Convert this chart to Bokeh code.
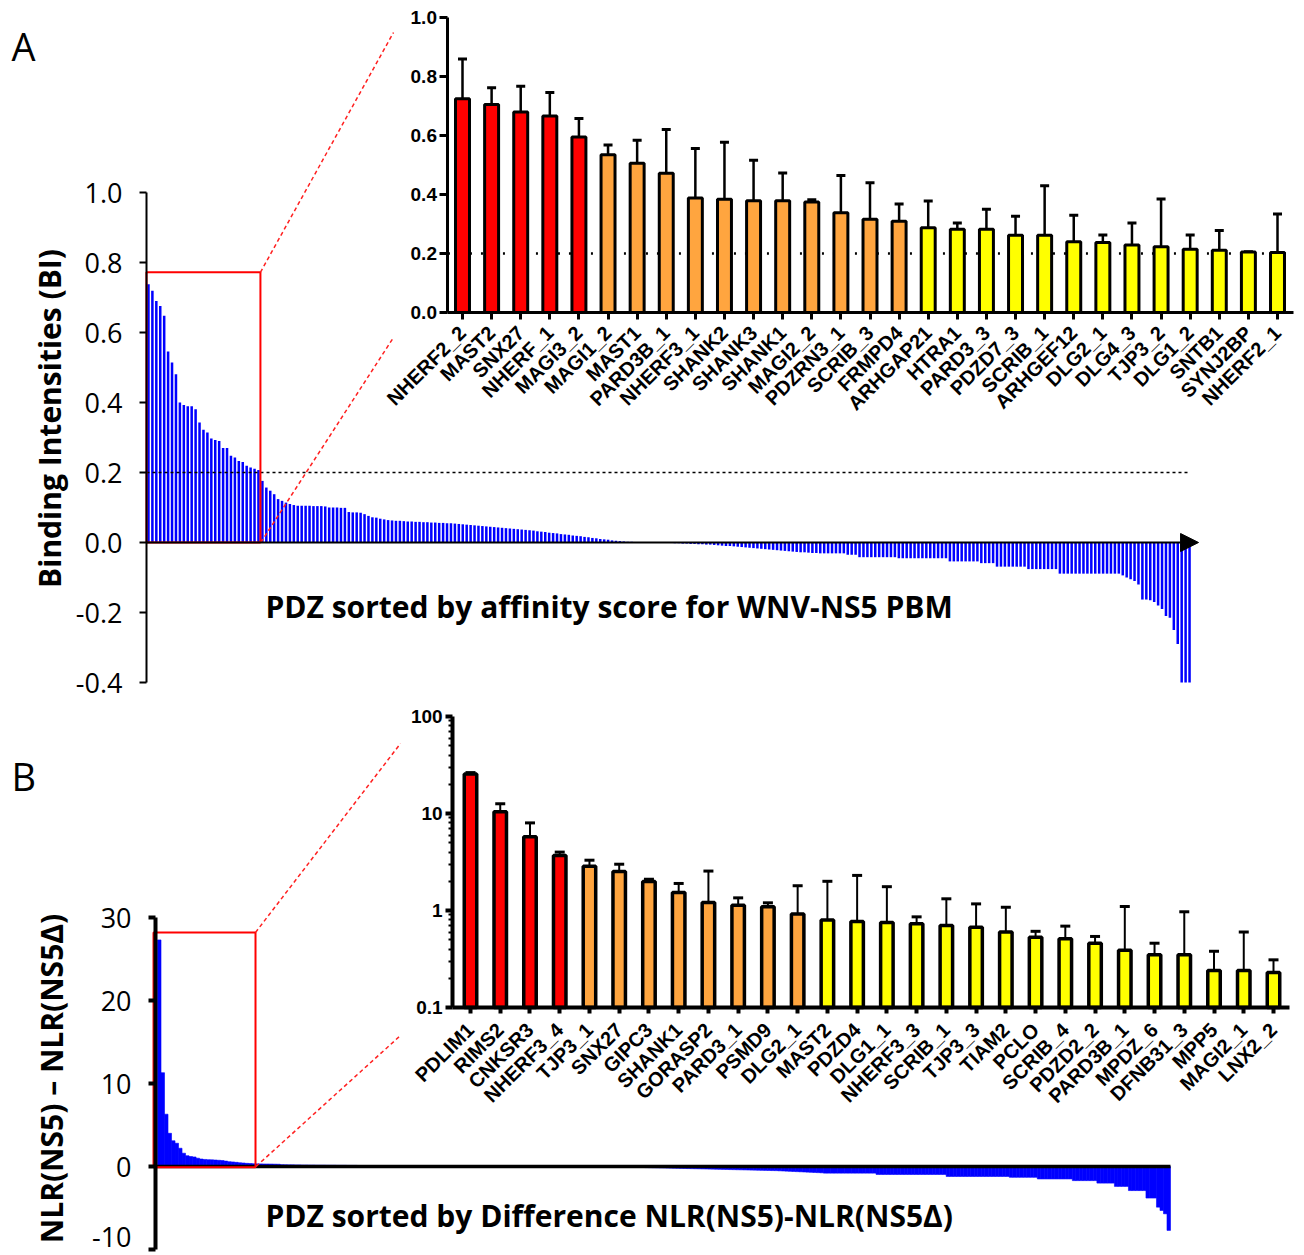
import math
from bokeh.plotting import figure
from bokeh.models import (Range1d, LinearAxis, LogAxis, LogScale, FixedTicker,
                          PrintfTickFormatter, ColumnDataSource, Whisker, TeeHead,
                          Arrow, NormalHead, Label)
from bokeh.embed import file_html
from bokeh.resources import INLINE

# ---------------------------------------------------------------- data
# Panel A, inset: top binders (mean BI and upper error)
A_labels = ["NHERF2_2", "MAST2", "SNX27", "NHERF_1", "MAGI3_2", "MAGI1_2", "MAST1",
            "PARD3B_1", "NHERF3_1", "SHANK2", "SHANK3", "SHANK1", "MAGI2_2", "PDZRN3_1",
            "SCRIB_3", "FRMPD4", "ARHGAP21", "HTRA1", "PARD3_3", "PDZD7_3", "SCRIB_1",
            "ARHGEF12", "DLG2_1", "DLG4_3", "TJP3_2", "DLG1_2", "SNTB1", "SYNJ2BP", "NHERF2_1"]
A_mean = [0.725, 0.705, 0.680, 0.666, 0.595, 0.535, 0.506, 0.472, 0.388, 0.384, 0.379, 0.379,
          0.375, 0.338, 0.316, 0.309, 0.287, 0.282, 0.282, 0.262, 0.262, 0.240, 0.237, 0.229,
          0.223, 0.214, 0.211, 0.205, 0.203]
A_err = [0.859, 0.762, 0.767, 0.746, 0.658, 0.568, 0.584, 0.620, 0.556, 0.577, 0.516, 0.473,
         0.382, 0.464, 0.440, 0.368, 0.378, 0.303, 0.350, 0.326, 0.430, 0.330, 0.263, 0.303,
         0.385, 0.263, 0.278, 0.206, 0.334]
A_tier = ["strong"] * 5 + ["medium"] * 11 + ["weak"] * 13

# Panel A, main: all PDZ domains sorted by BI
main_A = [
    0.738, 0.719, 0.690, 0.676, 0.648, 0.546, 0.514, 0.481, 0.400, 0.393, 0.389, 0.389, 0.381,
    0.343, 0.322, 0.314, 0.297, 0.293, 0.290, 0.270, 0.270, 0.248, 0.243, 0.233, 0.230, 0.219,
    0.214, 0.211, 0.207,
    0.176, 0.157, 0.148, 0.138, 0.124, 0.119, 0.114, 0.110, 0.107, 0.105, 0.105, 0.105, 0.105,
    0.104, 0.104, 0.104, 0.103, 0.100, 0.100, 0.100, 0.099, 0.099, 0.087, 0.086, 0.086, 0.085,
    0.081, 0.076, 0.072, 0.071, 0.068, 0.066, 0.064, 0.063, 0.062, 0.062, 0.061, 0.060, 0.060,
    0.059, 0.059,
    0.058, 0.058, 0.057, 0.057, 0.056, 0.056, 0.055, 0.055, 0.054, 0.053, 0.052, 0.051, 0.050,
    0.049, 0.048, 0.047, 0.046, 0.045, 0.044, 0.043, 0.042, 0.041, 0.040, 0.039, 0.038, 0.037,
    0.036, 0.035, 0.034, 0.032, 0.031, 0.030, 0.028, 0.027, 0.026, 0.024, 0.023, 0.022, 0.020,
    0.019, 0.018, 0.016, 0.015, 0.013, 0.012, 0.010, 0.009, 0.008, 0.006, 0.005, 0.004, 0.003,
    0.002, 0.002, 0.001, 0.001, 0.001, 0.001, 0.000, 0.000, 0.000, -0.001, -0.001, -0.001,
    -0.002, -0.002,
    -0.003, -0.003, -0.004, -0.004, -0.005, -0.005, -0.006, -0.006, -0.007, -0.008, -0.009,
    -0.010, -0.010, -0.011, -0.012, -0.013, -0.014, -0.015, -0.016, -0.017, -0.018, -0.019,
    -0.020, -0.021, -0.022, -0.023, -0.024, -0.025, -0.026, -0.027, -0.028, -0.028, -0.029,
    -0.030, -0.030, -0.031,
    -0.031, -0.031, -0.031, -0.031, -0.031, -0.031, -0.035, -0.035, -0.035,
    -0.042, -0.042, -0.042, -0.042, -0.042, -0.042, -0.042, -0.042, -0.042, -0.042,
    -0.045, -0.045, -0.045, -0.045, -0.045, -0.045, -0.045, -0.045, -0.045, -0.045, -0.045,
    -0.045, -0.045,
    -0.054, -0.054, -0.054, -0.054, -0.054, -0.054, -0.054, -0.054, -0.059, -0.059, -0.059, -0.059,
    -0.069, -0.069, -0.069, -0.069, -0.069, -0.069, -0.069, -0.069,
    -0.076, -0.076, -0.076, -0.076, -0.076, -0.076, -0.076, -0.076,
    -0.089, -0.089, -0.089, -0.089, -0.089, -0.089, -0.089, -0.089, -0.089, -0.089, -0.089,
    -0.089, -0.089, -0.089, -0.089, -0.089,
    -0.094, -0.100, -0.105, -0.110, -0.120, -0.163, -0.163, -0.165, -0.170, -0.180, -0.190,
    -0.210, -0.215, -0.250, -0.290, -0.400, -0.400, -0.400,
]
A_main_ticks = [-0.4, -0.2, 0.0, 0.2, 0.4, 0.6, 0.8, 1.0]
A_threshold = 0.2

# Panel B, inset: top hits on a log axis
B_labels = ["PDLIM1", "RIMS2", "CNKSR3", "NHERF3_4", "TJP3_1", "SNX27", "GIPC3", "SHANK1",
            "GORASP2", "PARD3_1", "PSMD9", "DLG2_1", "MAST2", "PDZD4", "DLG1_1", "NHERF3_3",
            "SCRIB_1", "TJP3_3", "TIAM2", "PCLO", "SCRIB_4", "PDZD2_2", "PARD3B_1", "MPDZ_6",
            "DFNB31_3", "MPP5", "MAGI2_1", "LNX2_2"]
B_mean = [25.5, 10.4, 5.75, 3.70, 2.86, 2.52, 1.99, 1.53, 1.21, 1.13, 1.09, 0.92, 0.80, 0.77,
          0.75, 0.73, 0.70, 0.67, 0.60, 0.53, 0.51, 0.46, 0.39, 0.35, 0.35, 0.24, 0.24, 0.23]
B_err = [26.4, 12.6, 8.0, 4.0, 3.3, 3.0, 2.10, 1.90, 2.55, 1.35, 1.20, 1.80, 2.00, 2.30, 1.76,
         0.86, 1.32, 1.17, 1.08, 0.61, 0.69, 0.54, 1.10, 0.46, 0.97, 0.38, 0.60, 0.31]
B_tier = ["strong"] * 4 + ["medium"] * 8 + ["weak"] * 16

# Panel B, main: all PDZ domains sorted by NLR difference
main_B = [
    27.3, 11.3, 6.3, 4.0, 3.1, 2.8, 2.2, 1.6, 1.3, 1.2, 1.15, 1.0, 0.9, 0.85, 0.82, 0.8, 0.78,
    0.75, 0.72, 0.65, 0.58, 0.55, 0.5, 0.45, 0.42, 0.38, 0.36, 0.33,
    0.32, 0.31, 0.30, 0.30, 0.29, 0.28, 0.27,
    0.22, 0.21, 0.20, 0.20, 0.19, 0.19, 0.18, 0.18, 0.17, 0.17, 0.16, 0.16, 0.16, 0.15, 0.15,
    0.15, 0.14, 0.14, 0.14, 0.13, 0.13, 0.13, 0.12, 0.12, 0.12, 0.12, 0.11, 0.11, 0.11, 0.11,
    0.10, 0.10, 0.10, 0.10, 0.10,
    0.09, 0.09, 0.08, 0.08, 0.08, 0.07, 0.07, 0.07, 0.07, 0.06, 0.06, 0.06, 0.06, 0.05, 0.05,
    0.05, 0.05, 0.05, 0.04, 0.04, 0.04, 0.04, 0.04, 0.03, 0.03, 0.03, 0.03, 0.03, 0.03, 0.02,
    0.02, 0.02, 0.02, 0.02, 0.02, 0.02, 0.01, 0.01, 0.01, 0.01, 0.01, 0.01, 0.01, 0.01, 0.0,
    0.0, 0.0, 0.0, 0.0, 0.0, -0.01, -0.01, -0.01, -0.02, -0.02, -0.02,
    -0.05, -0.05, -0.06, -0.06, -0.07, -0.07, -0.08, -0.08, -0.09, -0.1, -0.1, -0.11, -0.12,
    -0.13, -0.14, -0.15, -0.16, -0.17, -0.18, -0.19, -0.2, -0.21, -0.22, -0.23, -0.24, -0.25,
    -0.26, -0.27, -0.28, -0.29, -0.3, -0.31, -0.32, -0.33, -0.34, -0.35, -0.36, -0.37, -0.38,
    -0.39, -0.4, -0.41, -0.42, -0.43, -0.44, -0.45, -0.46, -0.47, -0.48, -0.49, -0.5, -0.52,
    -0.54, -0.56, -0.58, -0.6, -0.62, -0.64, -0.66, -0.68, -0.7, -0.72, -0.74, -0.76,
    -0.8, -0.8, -0.8, -0.8, -0.8, -0.8, -0.8, -0.8, -0.8, -0.8, -0.8, -0.8, -0.8, -0.8, -0.8,
    -0.96, -0.96, -0.96, -0.96, -0.96, -0.96, -0.96, -0.96, -0.96, -0.96, -0.96, -0.96, -0.96,
    -0.96, -0.96, -0.96, -0.96, -0.96, -0.96, -0.96,
    -1.2, -1.2, -1.2, -1.2, -1.2, -1.2, -1.2, -1.2, -1.2, -1.2, -1.2, -1.2, -1.2, -1.2, -1.2,
    -1.2, -1.2, -1.2,
    -1.3, -1.3, -1.3, -1.3, -1.3, -1.3, -1.3, -1.3,
    -1.5, -1.5, -1.5, -1.5, -1.5, -1.5, -1.5, -1.5, -1.5, -1.5,
    -1.7, -1.7, -1.7, -1.7, -1.7, -1.7, -1.7,
    -2.0, -2.0, -2.0, -2.0, -2.0, -2.4, -2.4, -2.4, -2.4, -2.9, -2.9, -2.9, -2.9, -2.9,
    -3.8, -3.8, -3.8, -4.9, -5.3, -5.7, -7.7,
]
B_main_ticks = [-10, 0, 10, 20, 30]
B_ins_ticks = [0.1, 1, 10, 100]

# ---------------------------------------------------------------- layout helpers
W, H, OFF = 1300, 1255, 0
TIER_COLOR = {"strong": "#ff0000", "medium": "#ffa53f", "weak": "#ffff00"}
MAIN_FONT = "Open Sans"
INSET_FONT = "Liberation Sans"


def mapper(v1, p1, v2, p2, log=False):
    f = (lambda v: math.log10(v)) if log else (lambda v: v)
    b = (p2 - p1) / (f(v2) - f(v1))
    return lambda v: p1 + b * (f(v) - f(v1))


def make_range(v1, p1, v2, p2, horizontal, log=False):
    f = (lambda v: math.log10(v)) if log else (lambda v: v)
    b = (p2 - p1) / (f(v2) - f(v1))
    lo, hi = (OFF, OFF + W) if horizontal else (OFF + H, OFF)
    s = f(v1) + (lo - p1) / b
    e = f(v1) + (hi - p1) / b
    if log:
        s, e = 10 ** s, 10 ** e
    return Range1d(start=s, end=e)


nA, nB = len(main_A), len(main_B)
nIA, nIB = len(A_labels), len(B_labels)

# anchors (value, page pixel) for each coordinate system
AX = (-0.5, 146, nA - 0.5, 1191)
AY = (0.0, 542, 1.0, 192)
IX = (0, 462, nIA - 1, 1277)
IY = (0.0, 312, 1.0, 17)
BX = (-0.5, 157, nB - 0.5, 1170)
BY = (0.0, 1166, 30.0, 917)
BY_LOW_LABEL = (0.0, 1153, 30.0, 904)   # lowest tick label sits a bit higher (page edge)
JX = (0, 470, nIB - 1, 1273)
JY = (0.1, 1007, 100.0, 716)

p = figure(width=W, height=H, x_range=Range1d(0, W), y_range=Range1d(H, 0),
           x_axis_type=None, y_axis_type=None, output_backend="svg",
           toolbar_location=None, min_border=0, title=None)
p.outline_line_color = None
p.background_fill_color = "white"
p.border_fill_color = "white"

p.extra_x_ranges = {"ax": make_range(*AX, True), "ix": make_range(*IX, True),
                    "bx": make_range(*BX, True), "jx": make_range(*JX, True)}
p.extra_y_ranges = {"ay": make_range(*AY, False), "iy": make_range(*IY, False),
                    "by": make_range(*BY, False), "byl": make_range(*BY_LOW_LABEL, False),
                    "jy": make_range(*JY, False, log=True)}
p.extra_y_scales = {"jy": LogScale()}

cx = lambda px: px - OFF
cy = lambda py: py - OFF


def style_axis(ax, font, size, bold, width, tick_out, standoff):
    ax.axis_line_width = width
    ax.axis_line_color = "black"
    ax.major_tick_line_width = width
    ax.major_tick_line_color = "black"
    ax.major_tick_out = tick_out
    ax.major_tick_in = 0
    ax.minor_tick_line_color = None
    ax.major_label_text_font = font
    ax.major_label_text_font_size = size
    ax.major_label_text_font_style = "bold" if bold else "normal"
    ax.major_label_text_color = "black"
    ax.major_label_standoff = standoff


# ================================================================ Panel A main
srcMA = ColumnDataSource(dict(x=list(range(nA)), top=main_A))
p.vbar(x="x", top="top", bottom=0, width=0.64, source=srcMA, fill_color="#0000ff",
       line_color=None, x_range_name="ax", y_range_name="ay")
p.segment(x0=[-0.5], y0=[A_threshold], x1=[nA - 1.2], y1=[A_threshold], line_color="black",
          line_width=1.6, line_dash="3 3", x_range_name="ax", y_range_name="ay")
p.add_layout(Arrow(end=NormalHead(size=18, fill_color="black", line_color="black"),
                   x_start=-0.5, y_start=0, x_end=nA + 1.3, y_end=0, line_width=2,
                   line_color="black", x_range_name="ax", y_range_name="ay"))
rectA_top = 0.772
p.quad(left=[-0.5], right=[nIA - 0.5], bottom=[0], top=[rectA_top], fill_color=None,
       line_color="#ff0000", line_width=2, x_range_name="ax", y_range_name="ay")

yA = LinearAxis(x_range_name="ax", y_range_name="ay", fixed_location=-0.5,
                bounds=(A_main_ticks[0], A_main_ticks[-1]),
                ticker=FixedTicker(ticks=A_main_ticks),
                formatter=PrintfTickFormatter(format="%.1f"))
style_axis(yA, MAIN_FONT, "27px", False, 2, 7, 17)
p.add_layout(yA, "left")

# ================================================================ Panel A inset
srcIA = ColumnDataSource(dict(x=list(range(nIA)), top=A_mean, err=A_err,
                              color=[TIER_COLOR[t] for t in A_tier]))
p.segment(x0=[-0.5], y0=[A_threshold], x1=[nIA - 0.45], y1=[A_threshold], line_color="black",
          line_width=2.5, line_dash="2 9", x_range_name="ix", y_range_name="iy")
p.vbar(x="x", top="top", bottom=0, width=0.48, source=srcIA, fill_color="color",
       line_color="black", line_width=3, x_range_name="ix", y_range_name="iy")
p.add_layout(Whisker(source=srcIA, base="x", lower="top", upper="err", dimension="height",
                     line_width=2.5, line_color="black",
                     upper_head=TeeHead(size=9, line_width=3, line_color="black"),
                     lower_head=None, x_range_name="ix", y_range_name="iy"))

yIA = LinearAxis(x_range_name="ix", y_range_name="iy", fixed_location=-0.5, bounds=(0, 1),
                 ticker=FixedTicker(ticks=[0.0, 0.2, 0.4, 0.6, 0.8, 1.0]),
                 formatter=PrintfTickFormatter(format="%.1f"))
style_axis(yIA, INSET_FONT, "19px", True, 3, 8, 3)
p.add_layout(yIA, "left")

xIA = LinearAxis(x_range_name="ix", y_range_name="iy", fixed_location=0,
                 bounds=(-0.5, nIA - 0.45), ticker=FixedTicker(ticks=list(range(nIA))),
                 major_label_overrides={i: s for i, s in enumerate(A_labels)},
                 major_label_orientation=math.pi / 4)
style_axis(xIA, INSET_FONT, "20px", True, 3, 7, 10)
p.add_layout(xIA, "below")

# ================================================================ Panel B main
srcMB = ColumnDataSource(dict(x=list(range(nB)), top=main_B))
p.vbar(x="x", top="top", bottom=0, width=1.0, source=srcMB, fill_color="#0000ff",
       line_color="#0000ff", line_width=0.6, x_range_name="bx", y_range_name="by")
bx_axis = -1.07
p.segment(x0=[bx_axis], y0=[0], x1=[nB - 0.5], y1=[0], line_color="black", line_width=3.5,
          x_range_name="bx", y_range_name="by")
rectB_top = 28.2
p.quad(left=[-1.64], right=[nIB - 0.54], bottom=[-0.1], top=[rectB_top], fill_color=None,
       line_color="#ff0000", line_width=2, x_range_name="bx", y_range_name="by")

yB = LinearAxis(x_range_name="bx", y_range_name="by", fixed_location=bx_axis,
                bounds=(B_main_ticks[0], B_main_ticks[-1]),
                ticker=FixedTicker(ticks=B_main_ticks),
                major_label_overrides={B_main_ticks[0]: ""},
                formatter=PrintfTickFormatter(format="%d"))
style_axis(yB, MAIN_FONT, "27px", False, 4, 7, 17)
p.add_layout(yB, "left")

# label of the lowest tick, nudged up so it stays inside the page (as in the original)
yB_low = LinearAxis(x_range_name="bx", y_range_name="byl", fixed_location=bx_axis,
                    ticker=FixedTicker(ticks=[B_main_ticks[0]]),
                    formatter=PrintfTickFormatter(format="%d"))
style_axis(yB_low, MAIN_FONT, "27px", False, 4, 7, 17)
yB_low.axis_line_color = None
yB_low.major_tick_line_color = None
p.add_layout(yB_low, "left")

# ================================================================ Panel B inset
srcIB = ColumnDataSource(dict(x=list(range(nIB)), top=B_mean, err=B_err,
                              color=[TIER_COLOR[t] for t in B_tier]))
p.vbar(x="x", top="top", bottom=B_ins_ticks[0], width=0.42, source=srcIB, fill_color="color",
       line_color="black", line_width=3.5, x_range_name="jx", y_range_name="jy")
p.add_layout(Whisker(source=srcIB, base="x", lower="top", upper="err", dimension="height",
                     line_width=2, line_color="black",
                     upper_head=TeeHead(size=10, line_width=3, line_color="black"),
                     lower_head=None, x_range_name="jx", y_range_name="jy"))

minor_log = [k * m for m in (0.1, 1, 10) for k in range(2, 10)]
yIB = LogAxis(x_range_name="jx", y_range_name="jy", fixed_location=-0.6,
              bounds=(B_ins_ticks[0], B_ins_ticks[-1]),
              ticker=FixedTicker(ticks=B_ins_ticks, minor_ticks=minor_log),
              formatter=PrintfTickFormatter(format="%g"))
style_axis(yIB, INSET_FONT, "19px", True, 4, 7, 3)
yIB.minor_tick_line_color = "black"
yIB.minor_tick_line_width = 2
yIB.minor_tick_out = 4
yIB.minor_tick_in = 0
p.add_layout(yIB, "left")

xIB = LinearAxis(x_range_name="jx", y_range_name="jy", fixed_location=B_ins_ticks[0],
                 bounds=(-0.6, nIB - 0.45), ticker=FixedTicker(ticks=list(range(nIB))),
                 major_label_overrides={i: s for i, s in enumerate(B_labels)},
                 major_label_orientation=math.pi / 4)
style_axis(xIB, INSET_FONT, "20px", True, 4, 6, 13)
p.add_layout(xIB, "below")

# ================================================================ connectors & texts
fAX, fAY = mapper(*AX), mapper(*AY)
fBX, fBY = mapper(*BX), mapper(*BY)
conn_x0 = [fAX(nIA - 0.5), fAX(nIA - 0.4), fBX(nIB - 0.54), fBX(nIB - 0.4)]
conn_y0 = [fAY(rectA_top), fAY(0), fBY(rectB_top), fBY(0)]
conn_x1 = [393, 393, 400, 400]
conn_y1 = [32, 337, 743, 1035]
p.segment(x0=[cx(v) for v in conn_x0], y0=[cy(v) for v in conn_y0],
          x1=[cx(v) for v in conn_x1], y1=[cy(v) for v in conn_y1],
          line_color="#ff2020", line_width=1.5, line_dash="4 3")

texts = [
    dict(x=11, y=45, text="A", size="38px", bold=False, angle=0, align="left"),
    dict(x=11, y=775, text="B", size="38px", bold=False, angle=0, align="left"),
    dict(x=265, y=606, text="PDZ sorted by affinity score for WNV-NS5 PBM", size="30px",
         bold=True, angle=0, align="left"),
    dict(x=265, y=1215, text="PDZ sorted by Difference NLR(NS5)-NLR(NS5\u0394)", size="30px",
         bold=True, angle=0, align="left"),
    dict(x=49, y=418, text="Binding Intensities (BI)", size="30px", bold=True,
         angle=math.pi / 2, align="center"),
    dict(x=51, y=1078, text="NLR(NS5) \u2013 NLR(NS5\u0394)", size="30px", bold=True,
         angle=math.pi / 2, align="center"),
]
for t in texts:
    p.add_layout(Label(x=cx(t["x"]), y=cy(t["y"]), text=t["text"], text_font=MAIN_FONT,
                       text_font_size=t["size"],
                       text_font_style="bold" if t["bold"] else "normal",
                       text_color="black", angle=t["angle"], text_align=t["align"],
                       text_baseline="middle"))

open("out.html", "w").write(file_html(p, INLINE))
